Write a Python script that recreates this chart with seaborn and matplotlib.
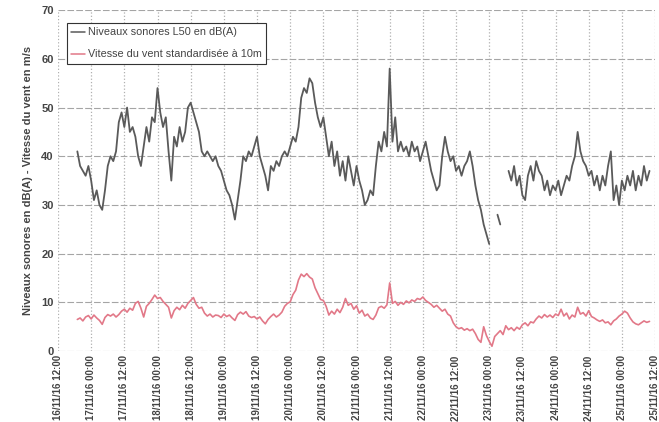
import pandas as pd
import numpy as np
import matplotlib
matplotlib.use('Agg')
import matplotlib.pyplot as plt
import matplotlib.dates as mdates
from matplotlib.lines import Line2D
import seaborn as sns

# hourly readings, first one at 16/11/16 19:00
start = '2016-11-16 19:00'

# Niveaux sonores L50 en dB(A)  (NaN = no measurement)
noise = [
    41, 38, 37, 36, 38, 35, 31, 33, 30, 29, 33, 38,
    40, 39, 41, 47, 49, 46, 50, 45, 46, 44, 40, 38,
    42, 46, 43, 48, 47, 54, 49, 46, 48, 41, 35, 44,
    42, 46, 43, 45, 50, 51, 49, 47, 45, 41, 40, 41,
    40, 39, 40, 38, 37, 35, 33, 32, 30, 27, 31, 35,
    40, 39, 41, 40, 42, 44, 40, 38, 36, 33, 38, 37,
    39, 38, 40, 41, 40, 42, 44, 43, 46, 52, 54, 53,
    56, 55, 51, 48, 46, 48, 44, 40, 43, 38, 41, 36,
    39, 35, 40, 37, 34, 38, 35, 33, 30, 31, 33, 32,
    38, 43, 41, 45, 42, 58, 43, 48, 41, 43, 41, 42,
    40, 43, 41, 42, 39, 41, 43, 40, 37, 35, 33, 34,
    40, 44, 41, 39, 40, 37, 38, 36, 38, 39, 41, 38,
    34, 31, 29, 26, 24, 22, np.nan, np.nan, 28, 26, np.nan, np.nan,
    37, 35, 38, 34, 36, 32, 31, 36, 38, 35, 39, 37,
    36, 33, 35, 32, 34, 33, 35, 32, 34, 36, 35, 38,
    40, 45, 41, 39, 38, 36, 37, 34, 36, 33, 36, 34,
    38, 41, 31, 34, 30, 35, 33, 36, 34, 37, 33, 36,
    34, 38, 35, 37,
]

# Vitesse du vent standardisée à 10m (m/s)
wind = [
    6.5, 6.8, 6.2, 7.0, 7.3, 6.6, 7.4, 6.8, 6.3, 5.5, 6.9, 7.5,
    7.2, 7.6, 7.0, 7.5, 8.2, 8.6, 8.0, 8.8, 8.4, 9.8, 10.2, 8.8,
    7.0, 9.2, 9.8, 10.6, 11.5, 10.8, 11.0, 10.2, 9.6, 9.0, 6.8, 8.3,
    9.0, 8.5, 9.4, 8.8, 9.8, 10.4, 11.0, 9.6, 8.8, 9.0, 7.8, 7.2,
    7.6, 7.0, 7.4, 7.3, 6.9, 7.6, 7.1, 7.4, 6.8, 6.3, 7.5, 8.0,
    7.6, 8.1, 7.2, 6.9, 7.1, 6.6, 7.0, 6.2, 5.6, 6.5, 7.1, 7.6,
    7.0, 7.4, 8.0, 9.2, 9.8, 10.1, 11.6, 12.5, 14.6, 15.8, 15.3, 15.9,
    15.2, 14.8, 13.0, 11.8, 10.6, 10.4, 9.2, 7.4, 8.2, 7.6, 8.6, 7.9,
    9.0, 10.8, 9.4, 9.8, 8.6, 9.3, 7.8, 8.4, 7.2, 7.6, 6.8, 6.5,
    7.4, 8.9, 9.2, 8.8, 9.5, 14.0, 9.8, 10.2, 9.4, 10.0, 9.6, 10.3,
    9.9, 10.5, 10.2, 10.8, 10.6, 11.1, 10.4, 10.0, 9.6, 9.0, 9.4, 8.8,
    8.2, 8.6, 7.6, 7.2, 5.8, 5.0, 4.6, 4.8, 4.3, 4.6, 4.2, 4.5,
    3.6, 2.4, 1.8, 5.0, 3.2, 2.0, 1.0, 3.0, 3.6, 4.2, 3.4, 5.2,
    4.4, 4.8, 4.2, 4.9, 4.5, 5.4, 5.8, 5.2, 6.0, 5.8, 6.6, 7.2,
    6.8, 7.5, 7.0, 7.4, 6.9, 7.6, 7.3, 8.6, 7.2, 7.8, 6.6, 7.4,
    7.0, 9.0, 7.6, 7.9, 7.2, 8.3, 7.1, 6.8, 6.4, 6.1, 6.4, 5.8,
    6.0, 5.4, 6.2, 6.6, 7.2, 7.6, 8.2, 7.8, 6.8, 6.0, 5.6, 5.4,
    5.8, 6.2, 5.9, 6.1,
]

legend_labels = ['Niveaux sonores L50 en dB(A)', 'Vitesse du vent standardisée à 10m']
y_ticks = [0, 10, 20, 30, 40, 50, 60, 70]

assert len(noise) == len(wind)
df = pd.DataFrame({
    'time': pd.date_range(start, periods=len(noise), freq='h'),
    'noise': noise,
    'wind': wind,
})
# split noise series at missing values so the line breaks there
df['seg'] = df['noise'].isna().cumsum()
noise_df = df.dropna(subset=['noise'])

sns.set_style('white')
plt.rcParams['font.family'] = ['Liberation Sans', 'DejaVu Sans']

grey = '#5a5a5a'
pink = '#e27888'

fig = plt.figure(figsize=(6.59, 4.22), dpi=100)
ax = fig.add_axes([0.088, 0.168, 0.906, 0.808])

sns.lineplot(data=noise_df, x='time', y='noise', units='seg', estimator=None,
             color=grey, linewidth=1.3, ax=ax)
sns.lineplot(data=df, x='time', y='wind', color=pink, linewidth=1.2, ax=ax)

ax.set_xlim(pd.Timestamp('2016-11-16 12:00'), pd.Timestamp('2016-11-25 12:00'))
ax.set_ylim(0, 70)
ax.set_yticks(y_ticks)
ax.xaxis.set_major_locator(mdates.HourLocator(byhour=[0, 12]))
ax.xaxis.set_major_formatter(mdates.DateFormatter('%d/%m/%y %H:%M'))
plt.setp(ax.get_xticklabels(), rotation=90, fontsize=7, fontweight='bold', color='#444444')
plt.setp(ax.get_yticklabels(), fontsize=8, fontweight='bold', color='#444444')
ax.tick_params(axis='both', length=0, pad=3)

ax.grid(axis='y', color='#a5a5a5', linestyle=(0, (6, 2)), linewidth=0.8)
ax.grid(axis='x', color='#b0b0b0', linestyle=':', linewidth=0.9)
for s in ax.spines.values():
    s.set_visible(False)

ax.set_xlabel('')
ax.set_ylabel('Niveaux sonores en dB(A) - Vitesse du vent en m/s',
              fontsize=8, fontweight='bold', color='#444444', labelpad=6)

handles = [Line2D([], [], color=grey, linewidth=1.1),
           Line2D([], [], color=pink, linewidth=1.1)]
leg = ax.legend(handles, legend_labels, loc='upper left', bbox_to_anchor=(0.015, 0.962),
                borderaxespad=0, fontsize=7.8, handlelength=1.3, handletextpad=0.2,
                labelspacing=1.1, fancybox=False, framealpha=1, edgecolor='#333333')
leg.get_frame().set_linewidth(0.8)
for t in leg.get_texts():
    t.set_color('#444444')

fig.savefig('out.png', dpi=100)
